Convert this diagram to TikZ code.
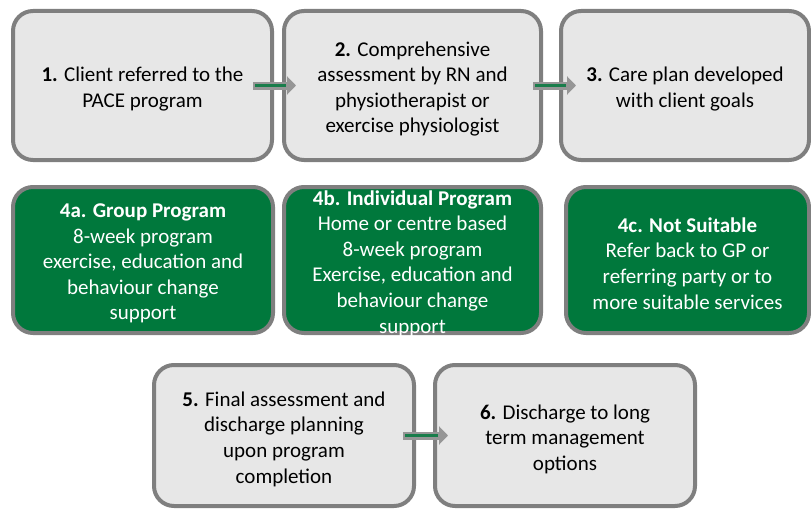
\documentclass[tikz,border=0pt]{standalone}
\usepackage{fontspec}
\setmainfont{Carlito}
\usepackage{xcolor}
\usetikzlibrary{arrows.meta}

\definecolor{boxgrey}{RGB}{231,231,231}
\definecolor{edgegrey}{RGB}{127,127,127}
\definecolor{pacegreen}{RGB}{0,120,60}
\definecolor{arrowgrey}{RGB}{150,150,150}
\definecolor{arrowgreen}{RGB}{25,125,75}

\begin{document}
\begin{tikzpicture}[x=1pt, y=-1pt,
    stepbox/.style={draw=edgegrey, line width=4pt, fill=boxgrey, rounded corners=20pt,
        inner sep=0pt, minimum width=259pt, minimum height=149pt},
    progbox/.style={stepbox, fill=pacegreen, minimum height=146pt},
    steptext/.style={align=center, inner sep=0pt, yshift=-3.5pt,
        font=\fontsize{21}{25.6}\selectfont},
    progtext/.style={steptext, text=white},
    flowarrow/.style={draw=arrowgrey, line width=8pt, -{Triangle[length=9pt, width=18pt]},
        postaction={draw=arrowgreen, line width=3pt, -, shorten <=2pt, shorten >=10pt}}]
        \useasboundingbox (0, 0) rectangle (811, 511);

        % assessment steps
        \node[stepbox] (s1) at (142.5, 85.5) {};
        \node[stepbox, minimum width=257pt] (s2) at (412.5, 85.5) {};
        \node[stepbox, minimum width=248pt] (s3) at (685, 85.5) {};
        \node[steptext] (t1) at (s1) {\textbf{1.} Client referred to the\\PACE program};
        \node[steptext] (t2) at (s2) {\textbf{2.} Comprehensive\\assessment by RN and\\physiotherapist or\\exercise physiologist};
        \node[steptext] (t3) at (s3) {\textbf{3.} Care plan developed\\with client goals};

        % program options
        \node[progbox, minimum width=260pt] (p4a) at (143, 260) {};
        \node[progbox, minimum width=257pt] (p4b) at (412.5, 260) {};
        \node[progbox, minimum width=243pt] (p4c) at (687.5, 260) {};
        \node[progtext] (t4a) at (p4a) {\textbf{4a. Group Program}\\8-week program\\exercise, education and\\behaviour change\\support};
        \node[progtext] (t4b) at (p4b) {\textbf{4b. Individual Program}\\Home or centre based\\8-week program\\Exercise, education and\\behaviour change\\support};
        \node[progtext] (t4c) at (p4c) {\textbf{4c. Not Suitable}\\Refer back to GP or\\referring party or to\\more suitable services};

        % discharge
        \node[stepbox, minimum width=260pt, minimum height=141pt] (s5) at (284, 435.5) {};
        \node[stepbox, minimum width=260pt, minimum height=141pt] (s6) at (565, 435.5) {};
        \node[steptext] (t5) at (s5) {\textbf{5.} Final assessment and\\discharge planning\\upon program\\completion};
        \node[steptext] (t6) at (s6) {\textbf{6.} Discharge to long\\term management\\options};

        \draw[flowarrow] ([xshift=-21pt]s1.east) -- ([xshift=14pt]s2.west);
        \draw[flowarrow] ([xshift=-10pt]s2.east) -- ([xshift=17pt]s3.west);
        \draw[flowarrow] ([xshift=-13pt]s5.east) -- ([xshift=15pt]s6.west);
    \end{tikzpicture}
\end{document}
